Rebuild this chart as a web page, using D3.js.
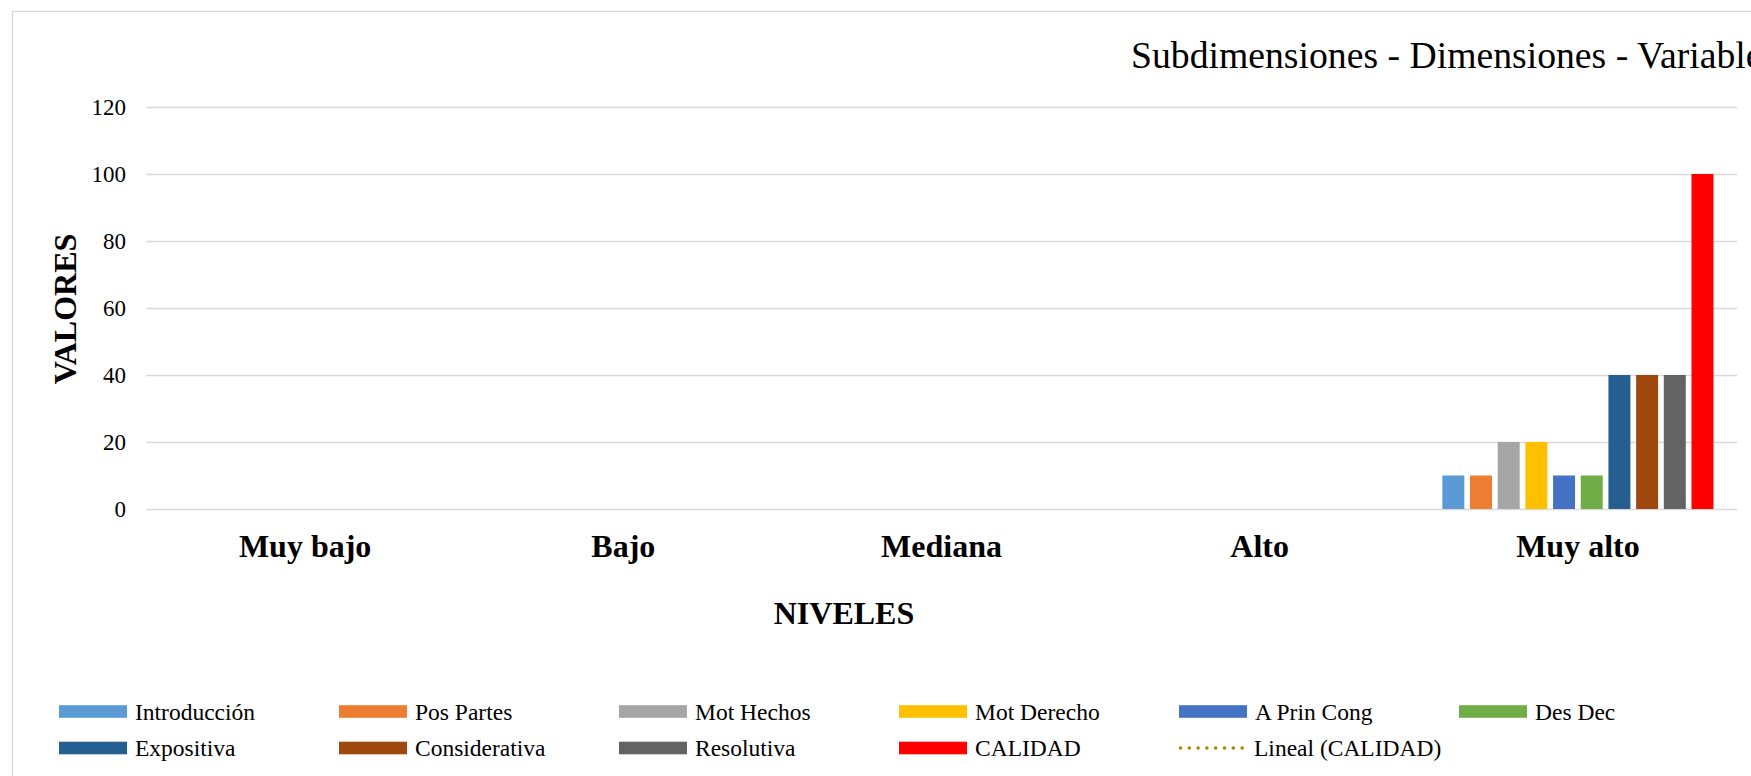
<!DOCTYPE html>
<html>
<head>
<meta charset="utf-8">
<script src="https://cdn.jsdelivr.net/npm/d3@7/dist/d3.min.js"></script>
<style>
  html, body { margin: 0; padding: 0; background: #ffffff; overflow: hidden; }
  svg { display: block; font-family: "Liberation Serif", "Times New Roman", serif; }
</style>
</head>
<body>
<svg id="chart" width="1751" height="776"></svg>
<script>
// ---- data ----
const categories = ["Muy bajo", "Bajo", "Mediana", "Alto", "Muy alto"];
const seriesNames = ["Introducción", "Pos Partes", "Mot Hechos", "Mot Derecho", "A Prin Cong",
                     "Des Dec", "Expositiva", "Considerativa", "Resolutiva", "CALIDAD"];
const introduccion  = [0, 0, 0, 0, 10];
const posPartes     = [0, 0, 0, 0, 10];
const motHechos     = [0, 0, 0, 0, 20];
const motDerecho    = [0, 0, 0, 0, 20];
const aPrinCong     = [0, 0, 0, 0, 10];
const desDec        = [0, 0, 0, 0, 10];
const expositiva    = [0, 0, 0, 0, 40];
const considerativa = [0, 0, 0, 0, 40];
const resolutiva    = [0, 0, 0, 0, 40];
const calidad       = [0, 0, 0, 0, 100];
const yTicks = [0, 20, 40, 60, 80, 100, 120];
const seriesColors = ["#5B9BD5", "#ED7D31", "#A5A5A5", "#FFC000", "#4472C4",
                      "#70AD47", "#255E91", "#9E480E", "#636363", "#FF0000"];
const trendLabel = "Lineal (CALIDAD)";
const titleText = "Subdimensiones - Dimensiones - Variables";

const seriesValues = [introduccion, posPartes, motHechos, motDerecho, aPrinCong,
                      desDec, expositiva, considerativa, resolutiva, calidad];

// ---- layout ----
const svg = d3.select("#chart");
const plotLeft = 146, plotRight = 1737, plotTop = 107, plotBottom = 509;

// chart area border
svg.append("rect")
  .attr("x", 12.5).attr("y", 11.5)
  .attr("width", 1800).attr("height", 900)
  .attr("fill", "#ffffff")
  .attr("stroke", "#d9d9d9").attr("stroke-width", 1.3);

const x0 = d3.scaleBand().domain(categories).range([plotLeft, plotRight]).padding(0);
const x1 = d3.scaleBand().domain(seriesNames).range([0, x0.bandwidth()])
  .paddingInner(0.206).paddingOuter(0.85);
const y = d3.scaleLinear().domain([0, 120]).range([plotBottom, plotTop]);

// gridlines
const yAxis = d3.axisLeft(y).tickValues(yTicks).tickSize(-(plotRight - plotLeft)).tickPadding(20)
  .tickFormat(d3.format("d"));
const gy = svg.append("g").attr("transform", `translate(${plotLeft},0)`).call(yAxis);
gy.select(".domain").remove();
gy.selectAll(".tick line").attr("stroke", "#d9d9d9").attr("stroke-width", 1.3);
gy.selectAll(".tick text")
  .attr("font-family", "Liberation Serif, Times New Roman, serif")
  .attr("font-size", 23).attr("fill", "#000");

// bars
const groups = svg.append("g").selectAll("g")
  .data(categories)
  .join("g")
  .attr("transform", d => `translate(${x0(d)},0)`);

groups.selectAll("rect")
  .data((c, ci) => seriesNames.map((s, si) => ({ s, si, v: seriesValues[si][ci] })))
  .join("rect")
  .filter(d => d.v > 0)
  .attr("x", d => x1(d.s))
  .attr("width", x1.bandwidth())
  .attr("y", d => y(d.v))
  .attr("height", d => y(0) - y(d.v))
  .attr("fill", d => seriesColors[d.si]);

// x axis labels
const xAxis = d3.axisBottom(x0).tickSize(0).tickPadding(0);
const gx = svg.append("g").attr("transform", `translate(0,${plotBottom})`).call(xAxis);
gx.select(".domain").remove();
gx.selectAll(".tick text")
  .attr("font-family", "Liberation Serif, Times New Roman, serif")
  .attr("font-size", 32).attr("font-weight", "bold").attr("fill", "#000")
  .attr("dy", null).attr("y", 48);

// axis titles
svg.append("text")
  .attr("x", 844).attr("y", 624)
  .attr("text-anchor", "middle")
  .attr("font-size", 32).attr("font-weight", "bold")
  .text("NIVELES");

svg.append("text")
  .attr("transform", "translate(76,309) rotate(-90)")
  .attr("text-anchor", "middle")
  .attr("font-size", 32).attr("font-weight", "bold")
  .text("VALORES");

// chart title
svg.append("text")
  .attr("x", 1131).attr("y", 68)
  .attr("font-size", 37.7)
  .text(titleText);

// legend
const legendItems = seriesNames.map((s, i) => ({ name: s, color: seriesColors[i], type: "rect" }))
  .concat([{ name: trendLabel, color: "#A68500", type: "dots" }]);
const colX = [59, 339, 619, 899, 1179, 1459];
const rowY = [711.5, 748];
const leg = svg.append("g").selectAll("g")
  .data(legendItems)
  .join("g")
  .attr("transform", (d, i) => `translate(${colX[i % 6]},${rowY[Math.floor(i / 6)]})`);

leg.filter(d => d.type === "rect").append("rect")
  .attr("x", 0).attr("y", -6.3).attr("width", 68).attr("height", 12.6)
  .attr("fill", d => d.color);

leg.filter(d => d.type === "dots").append("line")
  .attr("x1", 1.5).attr("x2", 66).attr("y1", 0).attr("y2", 0)
  .attr("stroke", d => d.color).attr("stroke-width", 3.5)
  .attr("stroke-linecap", "round")
  .attr("stroke-dasharray", "0,8.8");

leg.append("text")
  .attr("x", d => d.type === "dots" ? 75 : 76)
  .attr("y", 8)
  .attr("font-size", 23.5)
  .attr("fill", "#000")
  .text(d => d.name);
</script>
</body>
</html>
